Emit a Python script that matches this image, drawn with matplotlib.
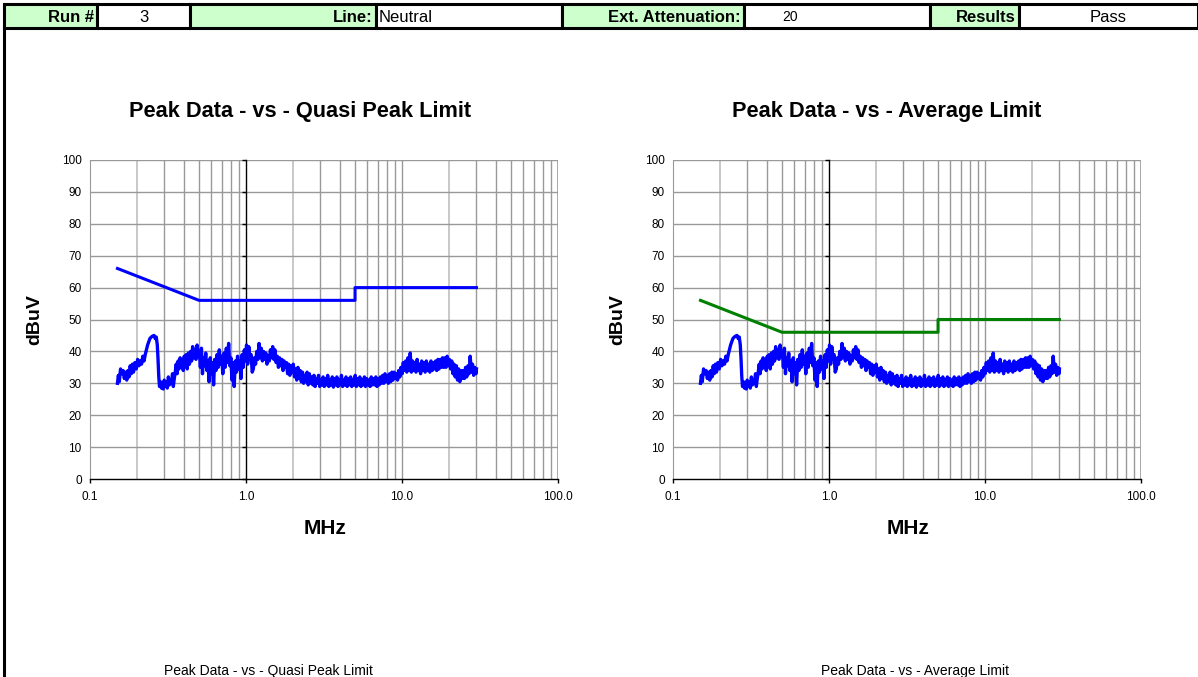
"""
Conducted emissions summary sheet: peak scan vs. QP and average limits.
"""

import matplotlib.pyplot as plt
from matplotlib.patches import Rectangle
from matplotlib.ticker import FixedLocator, NullLocator

plt.rcParams["font.family"] = ["Liberation Sans", "DejaVu Sans"]

# ---- sheet header -------------------------------------------------------
header_labels = ["Run #", "Line:", "Ext. Attenuation:", "Results"]
header_values = ["3", "Neutral", "20", "Pass"]

# ---- limits (MHz, dBuV) -------------------------------------------------
limit_freq = [0.15, 0.5, 5.0, 5.0, 30.0]
qp_limit = [66, 56, 56, 60, 60]
avg_limit = [56, 46, 46, 50, 50]

# ---- peak scan, neutral line (MHz, dBuV) --------------------------------
peak_freq = [
    0.150, 0.152, 0.154, 0.157, 0.160, 0.163, 0.166, 0.169, 0.172, 0.175,
    0.178, 0.181, 0.184, 0.187, 0.190, 0.194, 0.198, 0.202, 0.206, 0.210,
    0.214, 0.218, 0.222, 0.226, 0.230, 0.234, 0.238, 0.242, 0.247, 0.252,
    0.257, 0.262, 0.266, 0.270, 0.273, 0.276, 0.279, 0.283, 0.287, 0.291,
    0.295, 0.299, 0.303, 0.308, 0.313, 0.318, 0.323, 0.328, 0.333, 0.338,
    0.342, 0.347, 0.352, 0.357, 0.362, 0.367, 0.372, 0.378, 0.384, 0.390,
    0.396, 0.402, 0.408, 0.414, 0.420, 0.427, 0.434, 0.441, 0.448, 0.455,
    0.462, 0.470, 0.478, 0.486, 0.494, 0.502, 0.510, 0.518, 0.526, 0.534,
    0.543, 0.552, 0.561, 0.570, 0.580, 0.590, 0.600, 0.610, 0.620, 0.630,
    0.641, 0.652, 0.663, 0.674, 0.686, 0.698, 0.710, 0.722, 0.735, 0.748,
    0.761, 0.774, 0.787, 0.800, 0.813, 0.826, 0.840, 0.854, 0.868, 0.883,
    0.898, 0.913, 0.928, 0.944, 0.960, 0.976, 0.992, 1.008, 1.025, 1.042,
    1.060, 1.078, 1.096, 1.114, 1.133, 1.152, 1.172, 1.192, 1.212, 1.232,
    1.253, 1.274, 1.296, 1.318, 1.340, 1.363, 1.386, 1.410, 1.434, 1.458,
    1.483, 1.508, 1.534, 1.560, 1.587, 1.614, 1.641, 1.669, 1.698, 1.727,
    1.756, 1.786, 1.817, 1.848, 1.879, 1.911, 1.944, 1.977, 2.010, 2.045,
    2.080, 2.115, 2.151, 2.188, 2.225, 2.263, 2.302, 2.341, 2.381, 2.422,
    2.463, 2.505, 2.548, 2.591, 2.635, 2.680, 2.726, 2.773, 2.820, 2.868,
    2.917, 2.967, 3.017, 3.069, 3.121, 3.174, 3.229, 3.284, 3.340, 3.397,
    3.455, 3.514, 3.574, 3.635, 3.697, 3.760, 3.824, 3.889, 3.956, 4.023,
    4.092, 4.162, 4.233, 4.305, 4.378, 4.453, 4.529, 4.606, 4.685, 4.765,
    4.846, 4.929, 5.013, 5.098, 5.185, 5.274, 5.364, 5.455, 5.548, 5.643,
    5.739, 5.837, 5.936, 6.037, 6.140, 6.245, 6.351, 6.459, 6.569, 6.681,
    6.795, 6.911, 7.028, 7.148, 7.270, 7.393, 7.519, 7.647, 7.778, 7.910,
    8.045, 8.182, 8.321, 8.463, 8.607, 8.754, 8.903, 9.054, 9.208, 9.365,
    9.525, 9.687, 9.852, 10.02, 10.19, 10.37, 10.55, 10.73, 10.91, 11.10,
    11.29, 11.48, 11.68, 11.88, 12.08, 12.29, 12.50, 12.72, 12.93, 13.16,
    13.38, 13.61, 13.85, 14.08, 14.32, 14.57, 14.82, 15.08, 15.34, 15.60,
    15.87, 16.14, 16.42, 16.70, 16.99, 17.28, 17.58, 17.88, 18.19, 18.50,
    18.82, 19.14, 19.47, 19.80, 20.14, 20.49, 20.84, 21.20, 21.56, 21.93,
    22.31, 22.69, 23.08, 23.48, 23.88, 24.29, 24.71, 25.13, 25.56, 26.00,
    26.45, 26.90, 27.36, 27.83, 28.31, 28.80, 29.29, 29.79, 30.00,
]
peak_level = [
    30.0, 32.5, 30.5, 34.5, 33.0, 34.0, 31.5, 33.5, 31.0, 34.0,
    32.0, 35.5, 33.0, 36.0, 33.5, 36.5, 34.5, 37.5, 35.5, 37.0,
    36.0, 38.5, 37.0, 39.0, 40.5, 42.0, 43.0, 44.0, 44.5, 44.8,
    45.0, 44.0, 44.5, 42.0, 37.5, 32.0, 29.0, 30.5, 28.5, 30.0,
    28.2, 31.0, 29.0, 30.5, 28.5, 32.0, 29.5, 31.0, 30.0, 33.0,
    29.0, 31.5, 33.5, 36.0, 33.0, 37.0, 34.5, 38.0, 35.0, 37.5,
    34.0, 38.5, 36.0, 39.0, 34.5, 39.5, 36.0, 40.0, 37.0, 41.5,
    38.0, 40.5, 37.5, 42.0, 38.5, 40.0, 35.0, 41.0, 33.0, 38.0,
    35.5, 39.5, 34.0, 37.0, 30.5, 38.0, 33.0, 36.5, 29.5, 37.5,
    34.0, 39.0, 35.0, 40.5, 36.0, 38.5, 33.0, 39.5, 35.0, 41.0,
    36.5, 42.5, 35.5, 38.0, 31.0, 36.5, 29.0, 37.0, 33.5, 38.5,
    34.5, 37.0, 31.5, 39.0, 35.0, 40.5, 37.0, 42.0, 36.0, 41.5,
    37.5, 39.0, 33.5, 34.5, 38.0, 36.0, 40.0, 37.5, 42.5, 38.0,
    41.0, 37.0, 40.0, 37.5, 39.5, 36.0, 38.5, 37.0, 40.5, 38.0,
    41.5, 37.5, 40.5, 36.5, 38.5, 35.0, 38.0, 35.5, 37.5, 34.0,
    37.0, 35.0, 36.5, 33.0, 36.0, 32.5, 35.5, 33.5, 36.0, 32.0,
    34.5, 31.0, 35.0, 31.5, 34.0, 30.5, 33.5, 30.0, 32.5, 30.5,
    33.5, 29.5, 33.0, 30.0, 32.0, 29.5, 32.5, 29.0, 31.5, 30.0,
    32.5, 29.0, 31.0, 29.5, 32.0, 29.0, 31.5, 29.5, 32.5, 29.0,
    31.0, 29.5, 32.0, 28.8, 31.5, 29.5, 32.0, 29.0, 31.0, 29.5,
    32.5, 29.0, 31.0, 29.5, 32.0, 29.0, 31.5, 29.5, 32.0, 29.0,
    31.0, 29.5, 32.5, 29.0, 31.5, 29.5, 32.0, 29.0, 31.0, 29.5,
    32.0, 29.0, 31.5, 29.5, 31.0, 29.0, 32.0, 29.5, 31.5, 29.5,
    32.0, 29.0, 31.5, 29.5, 32.0, 30.0, 32.5, 30.0, 33.0, 30.5,
    32.5, 30.0, 33.0, 30.5, 33.5, 31.0, 33.5, 31.5, 33.0, 31.0,
    34.0, 32.0, 35.0, 33.0, 36.5, 34.0, 37.0, 33.5, 38.0, 34.0,
    39.5, 33.5, 37.0, 34.0, 36.5, 33.5, 37.5, 34.0, 36.0, 33.0,
    37.0, 34.0, 36.5, 33.5, 37.0, 34.0, 36.0, 33.5, 37.0, 34.0,
    36.5, 34.5, 37.0, 34.0, 37.5, 34.5, 37.5, 35.0, 38.0, 35.0,
    38.0, 35.0, 38.5, 35.5, 37.5, 34.5, 37.0, 33.0, 36.0, 32.0,
    35.5, 31.0, 34.5, 30.5, 34.0, 31.5, 34.0, 31.5, 35.0, 32.0,
    35.5, 33.0, 38.5, 33.5, 36.0, 32.5, 35.0, 33.0, 34.5,
]

W, H = 1198, 677
GRID = "#999999"
GRID_LIGHT = "#c8c8c8"


def fx(px):
    return px / W


def fy(py):
    return 1 - py / H


def draw_header(fig):
    # (x0, x1, fill, text, align, bold, size)
    cells = [
        (4, 97, "#ccffcc", header_labels[0], "right", True, 12),
        (97, 190, "white", header_values[0], "center", False, 12),
        (190, 376, "#ccffcc", header_labels[1], "right", True, 12),
        (376, 562, "white", header_values[1], "left", False, 12),
        (562, 744, "#ccffcc", header_labels[2], "right", True, 12),
        (744, 930, "white", header_values[2], "left", False, 10),
        (930, 1019, "#ccffcc", header_labels[3], "right", True, 12),
        (1019, 1198, "white", header_values[3], "center", False, 12),
    ]
    y0, y1 = 4, 28
    for x0, x1, fill, text, align, bold, size in cells:
        fig.patches.append(Rectangle((fx(x0), fy(y1)), fx(x1 - x0), (y1 - y0) / H,
                                     transform=fig.transFigure, facecolor=fill,
                                     edgecolor="black", linewidth=2.2))
        if align == "right":
            tx = x1 - 3
        elif align == "left":
            tx = x0 + 3 if text != header_values[2] else x0 + 38
        else:
            tx = (x0 + x1) / 2
        fig.text(fx(tx), fy((y0 + y1) / 2 + 1), text, ha=align, va="center",
                 fontsize=size, fontweight="bold" if bold else "normal")
    # sheet border down the left side
    fig.add_artist(plt.Line2D([fx(4), fx(4)], [0, fy(28)], color="black",
                              linewidth=2.2, transform=fig.transFigure))


def draw_panel(fig, left_px, limit_level, limit_color, title, caption, title_x, caption_x):
    ax = fig.add_axes([fx(left_px), fy(479), 468 / W, 319 / H])
    ax.set_xscale("log")
    ax.set_xlim(0.1, 100)
    ax.set_ylim(0, 100)

    ax.xaxis.set_major_locator(FixedLocator([0.1, 1, 10, 100]))
    ax.xaxis.set_minor_locator(NullLocator())
    ax.set_xticklabels(["0.1", "1.0", "10.0", "100.0"])
    ax.set_yticks(range(0, 101, 10))

    # vertical grid: decade multiples, with the 2x lines lighter
    for dec in (0.1, 1, 10):
        for m in range(2, 10):
            ax.axvline(dec * m, color=GRID_LIGHT if m == 2 else GRID,
                       linewidth=1.0 if m != 2 else 1.4, zorder=0.5)
    ax.axvline(10, color=GRID, linewidth=1.0, zorder=0.5)
    ax.axvline(100, color=GRID, linewidth=1.2, zorder=0.5)
    for yv in range(10, 101, 10):
        ax.axhline(yv, color=GRID, linewidth=1.0, zorder=0.5)

    # value axis crosses at 1 MHz
    ax.spines["right"].set_position(("data", 1.0))
    ax.spines["right"].set_color("black")
    ax.spines["right"].set_linewidth(1.0)
    ax.spines["top"].set_visible(False)
    ax.spines["left"].set_color(GRID)
    ax.spines["bottom"].set_color("black")
    ax.spines["bottom"].set_linewidth(1.0)
    ax.tick_params(axis="y", left=False, right=True, labelleft=True,
                   labelright=False, direction="in", length=3, width=1,
                   labelsize=8.5, pad=6)
    ax.tick_params(axis="x", direction="out", length=3, width=1,
                   labelsize=8.5, pad=6)

    ax.plot(limit_freq, limit_level, color=limit_color, linewidth=2.2, zorder=3)
    ax.plot(peak_freq, peak_level, color="#0000ff", linewidth=2.4, zorder=4)

    fig.text(fx(title_x), fy(112), title, ha="center", va="center",
             fontsize=15.7, fontweight="bold")
    fig.text(fx(left_px + 235), fy(528), "MHz", ha="center", va="center",
             fontsize=15, fontweight="bold")
    fig.text(fx(left_px - 55), fy(320), "dBuV", ha="center", va="center",
             rotation=90, fontsize=14, fontweight="bold")
    fig.text(fx(caption_x), fy(664), caption, ha="center", va="top",
             fontsize=10)
    return ax


fig = plt.figure(figsize=(W / 100, H / 100), dpi=100)
draw_header(fig)
draw_panel(fig, 90, qp_limit, "#0000ff", "Peak Data - vs - Quasi Peak Limit",
           "Peak Data - vs - Quasi Peak Limit", 300, 268)
draw_panel(fig, 673, avg_limit, "#008000", "Peak Data - vs - Average Limit",
           "Peak Data - vs - Average Limit", 887, 915)

fig.savefig("out.png", dpi=100)
